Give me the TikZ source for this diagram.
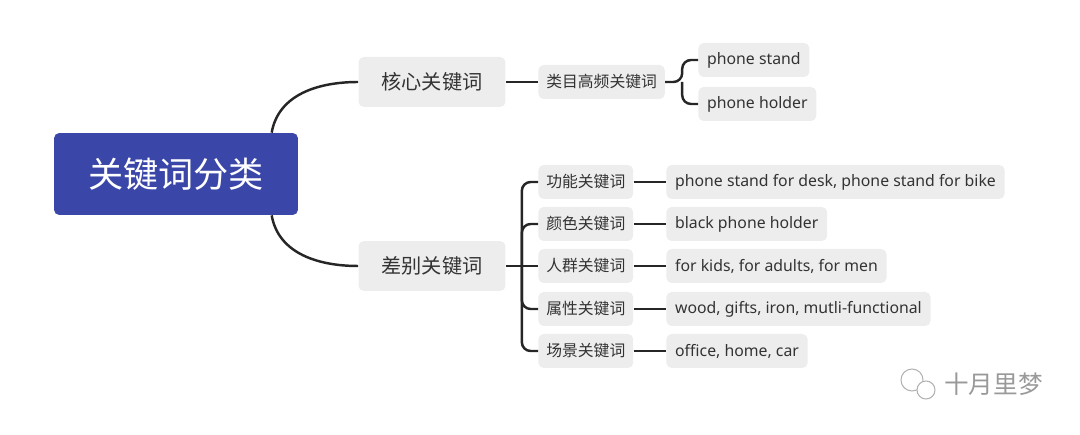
\documentclass[tikz,border=0pt]{standalone}
\usepackage{fontspec}
\setmainfont{Noto Sans}
\newfontfamily\cjk{Noto Sans CJK SC}
\usetikzlibrary{positioning, calc}
\definecolor{rootblue}{HTML}{3A47A8}
\definecolor{boxgray}{HTML}{EDEDED}
\definecolor{txt}{HTML}{333333}

\begin{document}
\begin{tikzpicture}[
x=0.02cm, y=-0.02cm,
rootnode/.style={rectangle,
  rounded corners=3pt,
  fill=rootblue,
  text=white,
  minimum width=4.88cm, minimum height=1.64cm,
  font=\cjk\fontsize{20}{22}\selectfont
},
topicnode/.style={rectangle,
  rounded corners=3pt,
  fill=boxgray,
  text=txt,
  minimum width=2.94cm, minimum height=1cm,
  font=\cjk\fontsize{11.5}{13}\selectfont
},
subnode/.style={rectangle,
  rounded corners=3pt,
  fill=boxgray,
  text=txt,
  inner xsep=4.5pt,
  minimum height=0.68cm,
  font=\cjk\fontsize{9}{10}\selectfont
},
leafnode/.style={rectangle,
  rounded corners=3pt,
  fill=boxgray,
  text=txt,
  inner xsep=5pt,
  minimum height=0.68cm,
  font=\fontsize{9}{10}\selectfont
},
link/.style={line width=1.4pt, black!85, rounded corners=5pt}
]
\useasboundingbox (0,0) rectangle (1080,435);

\node[rootnode] (root) at (176,174) {关键词分类};
\node[topicnode] (core) at (432,82) {核心关键词};
\node[topicnode] (diff) at (432,266) {差别关键词};

\node[subnode, anchor=west] (cat) at (538,82) {类目高频关键词};
\node[leafnode, anchor=west] (stand) at (698,60) {phone stand};
\node[leafnode, anchor=west] (holder) at (698,104) {phone holder};

\node[subnode, anchor=west] (func) at (538,182) {功能关键词};
\node[subnode, anchor=west] (color) at (538,224) {颜色关键词};
\node[subnode, anchor=west] (crowd) at (538,266) {人群关键词};
\node[subnode, anchor=west] (attr) at (538,309) {属性关键词};
\node[subnode, anchor=west] (scene) at (538,351) {场景关键词};

\node[leafnode, anchor=west] (funcL) at (666,182) {phone stand for desk, phone stand for bike};
\node[leafnode, anchor=west] (colorL) at (666,224) {black phone holder};
\node[leafnode, anchor=west] (crowdL) at (666,266) {for kids, for adults, for men};
\node[leafnode, anchor=west] (attrL) at (666,309) {wood, gifts, iron, mutli-functional};
\node[leafnode, anchor=west] (sceneL) at (666,351) {office, home, car};

% root to topics
\draw[link] ($(root.north west)+(218,0)$) to[out=80,in=180] (core.west);
\draw[link] ($(root.south west)+(218,0)$) to[out=-80,in=180] (diff.west);

% core branch
\draw[link] (core.east) -- (cat.west);
\coordinate (cb) at ($(cat.east)+(17,0)$);
\draw[link] (cat.east) -- (cb) |- (stand.west);
\draw[link] (cb) |- (holder.west);

% diff branch
\coordinate (db) at ($(diff.east)+(16,0)$);
\draw[link] (diff.east) -- (crowd.west);
\foreach \n in {func, color, attr, scene}
  \draw[link] (db) |- (\n.west);

\foreach \a/\b in {func/funcL, color/colorL, crowd/crowdL, attr/attrL, scene/sceneL}
  \draw[link] (\a.east) -- (\b.west);

% watermark
\draw[gray!60, line width=0.6pt] (912,380) circle (11);
\draw[gray!60, line width=0.6pt, fill=white] (926,390) circle (9);
\node[text=gray!80, anchor=west, font=\cjk\fontsize{14}{16}\selectfont] (mark) at (938,384) {十月里梦};
\end{tikzpicture}
\end{document}
